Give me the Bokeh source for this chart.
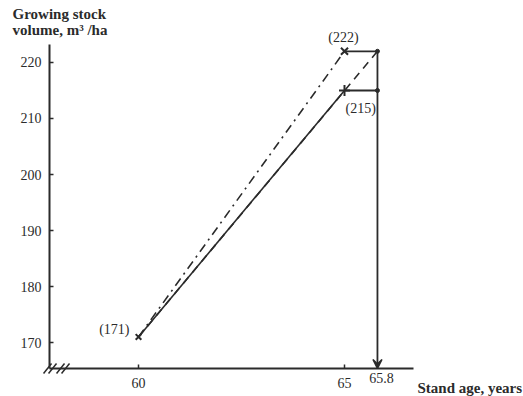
from bokeh.plotting import figure
from bokeh.models import Range1d, FixedTicker, Arrow, VeeHead, LinearAxis
from bokeh.core.properties import value
from bokeh.embed import file_html
from bokeh.resources import INLINE

# ---- data ----
ages = [60, 65, 65.8]                 # stand age, years
vol_actual = [171, 215, 215]          # solid line
vol_potential = [171, 222, 222]       # dash-dot line
point_labels = ["(171)", "(215)", "(222)"]
x_ticks = [60, 65, 65.8]
y_ticks = [170, 180, 190, 200, 210, 220]
y_title = "Growing stock\nvolume, m\u00b3 /ha"
x_title = "Stand age, years"

INK = "#2b2b2b"
FONT = "Liberation Serif"

W, H = 523, 396
x_start, x_end = 56.65, 69.345
y_start, y_end = 160.36, 231.07
x_origin, y_origin = 57.84, 165.36    # where the two axes meet
px_x = (x_end - x_start) / W
px_y = (y_end - y_start) / H

p = figure(width=W, height=H, output_backend="svg", toolbar_location=None,
           x_range=Range1d(x_start, x_end), y_range=Range1d(y_start, y_end),
           x_axis_location=None, y_axis_location=None,
           min_border_left=0, min_border_right=0, min_border_top=0,
           min_border_bottom=0)
p.outline_line_color = None
p.grid.visible = False
p.background_fill_color = "white"
p.border_fill_color = "white"

xaxis = LinearAxis(fixed_location=y_origin, ticker=FixedTicker(ticks=x_ticks[:2]),
                   bounds=(x_origin, 66.67), major_label_standoff=10)
yaxis = LinearAxis(fixed_location=x_origin, ticker=FixedTicker(ticks=y_ticks),
                   bounds=(y_origin, 223.2), major_label_standoff=8)
for ax in (xaxis, yaxis):
    ax.axis_line_color = INK
    ax.axis_line_width = 2
    ax.major_tick_line_color = INK
    ax.major_tick_line_width = 1.5
    ax.major_tick_in = 4
    ax.major_tick_out = 0
    ax.minor_tick_line_color = None
    ax.major_label_text_font = FONT
    ax.major_label_text_font_size = "14px"
    ax.major_label_text_color = INK
p.add_layout(xaxis, "below")
p.add_layout(yaxis, "left")

# lines
p.line(ages[:2], vol_actual[:2], line_color=INK, line_width=1.6)
p.line(ages[:2], vol_potential[:2], line_color=INK, line_width=1.6,
       line_dash="9 5 2 5")
p.line([ages[0], ages[2]], [vol_potential[0], vol_potential[2]],
       line_color=INK, line_width=1.6, line_dash="8 6")
p.line(ages[1:], vol_potential[1:], line_color=INK, line_width=1.8)
p.line(ages[1:], vol_actual[1:], line_color=INK, line_width=1.8)

# vertical arrow down to the axis
p.add_layout(Arrow(end=VeeHead(size=9, fill_color=INK, line_color=INK, line_width=1.5),
                   x_start=ages[2], y_start=vol_potential[2],
                   x_end=ages[2], y_end=y_origin,
                   line_color=INK, line_width=1.8))

# markers
p.scatter([ages[1]], [vol_potential[1]], marker="x", size=10, line_color=INK, line_width=2)
p.scatter([ages[1]], [vol_actual[1]], marker="cross", size=11, line_color=INK, line_width=2)
p.scatter([ages[0]], [vol_actual[0]], marker="x", size=8, line_color=INK, line_width=2)
p.scatter([ages[2], ages[2]], [vol_potential[2], vol_actual[2]], size=4,
          fill_color=INK, line_color=INK)

# value labels
p.text([ages[0]], [vol_actual[0]], text=[point_labels[0]], text_font=value(FONT),
       text_font_size="14px", text_color=INK, text_align="right",
       text_baseline="middle", x_offset=-9, y_offset=-7)
p.text([ages[1]], [vol_actual[1]], text=[point_labels[1]], text_font=value(FONT),
       text_font_size="14px", text_color=INK, text_align="left",
       text_baseline="top", x_offset=1, y_offset=11)
p.text([ages[1]], [vol_potential[1]], text=[point_labels[2]], text_font=value(FONT),
       text_font_size="14px", text_color=INK, text_align="center",
       text_baseline="bottom", x_offset=-1, y_offset=-6)

# raised "65.8" tick label under the arrow
p.text([x_ticks[2]], [y_origin], text=["65.8"], text_font=value(FONT),
       text_font_size="14px", text_color=INK, text_align="center",
       text_baseline="top", x_offset=4, y_offset=5)

# axis break marks near origin
bx = [x_origin - 2 * px_x, x_origin + 3 * px_x, x_origin + 11 * px_x, x_origin + 16 * px_x]
p.segment(x0=[b - 4 * px_x for b in bx], y0=[y_origin - 5 * px_y] * 4,
          x1=[b + 4 * px_x for b in bx], y1=[y_origin + 5 * px_y] * 4,
          line_color=INK, line_width=1.5)

# axis titles
p.text([x_origin - 37 * px_x], [y_end - 5 * px_y], text=[y_title], text_font=value(FONT),
       text_font_size="15px", text_font_style="bold", text_color=INK,
       text_baseline="top", text_align="left", text_line_height=1.05)
p.text([x_origin + 368 * px_x], [y_origin - 20 * px_y], text=[x_title], text_font=value(FONT),
       text_font_size="15px", text_font_style="bold", text_color=INK,
       text_baseline="middle", text_align="left")

open("out.html", "w").write(file_html(p, INLINE))
